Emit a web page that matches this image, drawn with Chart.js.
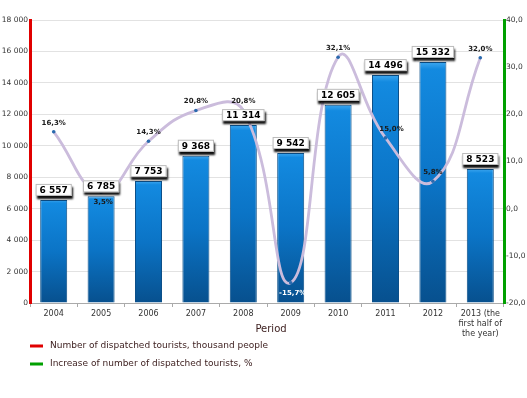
<!DOCTYPE html>
<html>
<head>
<meta charset="utf-8">
<script src="https://cdn.jsdelivr.net/npm/chart.js@4/dist/chart.umd.min.js"></script>
<style>
  body { margin: 0; background: #fff; }
  #wrap { width: 527px; height: 398px; }
</style>
</head>
<body>
<div id="wrap"><canvas id="myChart" width="527" height="398"></canvas></div>
<script>
// data
var periods = ['2004', '2005', '2006', '2007', '2008', '2009', '2010', '2011', '2012', ['2013 (the', 'first half of', 'the year)']];
var tourists = [6557, 6785, 7753, 9368, 11314, 9542, 12605, 14496, 15332, 8523];
var growth = [16.3, 3.5, 14.3, 20.8, 20.8, -15.7, 32.1, 15.0, 5.8, 32.0];
var legendNames = ['Number of dispatched tourists, thousand people', 'Increase of number of dispatched tourists, %'];
var axisTitle = 'Period';

// where each % label goes relative to its point
var growthLabelPos = ['up', 'down', 'up', 'up', 'up', 'down', 'up', 'up', 'up', 'up'];

function spaced(v) {
    return String(v).replace(/\B(?=(\d{3})+(?!\d))/g, ' ');
}
function comma(v, d) {
    return v.toFixed(d).replace('.', ',');
}

function barFill(context) {
    var chart = context.chart;
    if (!chart.chartArea) return '#1484d6';
    var y = chart.scales.y;
    var top = y.getPixelForValue(context.parsed ? context.parsed.y : 0);
    var bottom = chart.chartArea.bottom;
    var g = chart.ctx.createLinearGradient(0, top, 0, bottom);
    g.addColorStop(0, '#3fa8f0');
    g.addColorStop(0.03, '#138ae0');
    g.addColorStop(0.5, '#0b74c6');
    g.addColorStop(1, '#07508e');
    return g;
}

var labelsPlugin = {
    id: 'valueLabels',
    afterDatasetsDraw: function (chart) {
        var ctx = chart.ctx;
        ctx.save();
        // boxes over the bars
        chart.getDatasetMeta(0).data.forEach(function (bar, i) {
            var text = spaced(tourists[i]);
            ctx.font = 'bold 9px "DejaVu Sans"';
            var w = ctx.measureText(text).width + 8;
            var h = 12;
            var x = bar.x - w / 2;
            var y = bar.y - 4 - h;
            ctx.save();
            ctx.shadowColor = 'rgba(0,0,0,0.95)';
            ctx.shadowOffsetY = 3;
            ctx.shadowOffsetX = 1;
            ctx.shadowBlur = 2;
            ctx.fillStyle = '#fff';
            ctx.fillRect(x, y, w, h);
            ctx.restore();
            ctx.strokeStyle = '#bbb';
            ctx.lineWidth = 1;
            ctx.strokeRect(x + 0.5, y + 0.5, w - 1, h - 1);
            ctx.fillStyle = '#000';
            ctx.textAlign = 'center';
            ctx.textBaseline = 'middle';
            ctx.fillText(text, bar.x, y + h / 2 + 0.5);
        });
        // % labels on the line
        chart.getDatasetMeta(1).data.forEach(function (pt, i) {
            ctx.font = 'bold 7px "DejaVu Sans"';
            ctx.textAlign = 'center';
            ctx.textBaseline = 'middle';
            var text = comma(growth[i], 1) + '%';
            var dx = i === 7 ? 6 : 0;
            if (growthLabelPos[i] === 'up') {
                ctx.fillStyle = '#1a1a1a';
                ctx.fillText(text, pt.x + dx, pt.y - 9);
            } else {
                ctx.fillStyle = i === 5 ? '#fff' : '#1a1a1a';
                ctx.fillText(text, pt.x + 2, pt.y + 10);
            }
        });
        ctx.restore();
    },
    afterDraw: function (chart) {
        var ctx = chart.ctx;
        ctx.save();
        ctx.fillStyle = '#3a1c1c';
        ctx.font = '10px "DejaVu Sans"';
        ctx.textAlign = 'center';
        ctx.textBaseline = 'middle';
        ctx.fillText(axisTitle, 271, 329);
        var colors = ['#e00000', '#00a000'];
        ctx.textAlign = 'left';
        ctx.font = '9px "DejaVu Sans"';
        legendNames.forEach(function (name, i) {
            var y = 346 + i * 18;
            ctx.fillStyle = colors[i];
            ctx.fillRect(30, y - 1.5, 13, 3);
            ctx.fillStyle = '#3a1c1c';
            ctx.fillText(name, 50, y);
        });
        ctx.restore();
    }
};

var ctx = document.getElementById('myChart').getContext('2d');
var myChart = new Chart(ctx, {
    type: 'bar',
    data: {
        labels: periods,
        datasets: [{
            type: 'bar',
            data: tourists,
            yAxisID: 'y',
            backgroundColor: barFill,
            borderColor: '#0c4f88',
            borderWidth: 1,
            barPercentage: 0.57,
            categoryPercentage: 1,
            order: 2
        }, {
            type: 'line',
            data: growth,
            yAxisID: 'y1',
            borderColor: '#cbbcdc',
            borderWidth: 2.8,
            tension: 0.45,
            pointRadius: 1.8,
            pointBackgroundColor: '#2a6aae',
            pointBorderWidth: 0,
            order: 1
        }]
    },
    options: {
        responsive: false,
        animation: false,
        layout: { padding: { top: 20, left: 0, right: 0, bottom: 0 } },
        plugins: {
            legend: { display: false },
            tooltip: { enabled: false }
        },
        scales: {
            x: {
                offset: true,
                grid: {
                    offset: true,
                    drawOnChartArea: false,
                    drawTicks: true,
                    tickLength: 4,
                    color: '#aaa'
                },
                border: { color: '#aaa', width: 1 },
                ticks: {
                    color: '#333',
                    font: { family: 'DejaVu Sans', size: 8, lineHeight: 1.25 },
                    padding: 2,
                    maxRotation: 0,
                    autoSkip: false
                },
                afterFit: function (s) { s.height = 95; }
            },
            y: {
                position: 'left',
                min: 0,
                max: 18000,
                ticks: {
                    stepSize: 2000,
                    color: '#333',
                    font: { family: 'DejaVu Sans', size: 7.5 },
                    padding: 2,
                    callback: function (v) { return spaced(v); }
                },
                grid: { color: '#e2e2e2', drawTicks: false },
                border: { color: '#e00000', width: 3 },
                afterFit: function (s) { s.width = 30; }
            },
            y1: {
                position: 'right',
                min: -20,
                max: 40,
                ticks: {
                    stepSize: 10,
                    color: '#333',
                    font: { family: 'DejaVu Sans', size: 7.5 },
                    padding: 2,
                    callback: function (v) { return comma(v, 1); }
                },
                grid: { drawOnChartArea: false, drawTicks: false },
                border: { color: '#00a000', width: 3 },
                afterFit: function (s) { s.width = 23; }
            }
        }
    },
    plugins: [labelsPlugin]
});
</script>
</body>
</html>
